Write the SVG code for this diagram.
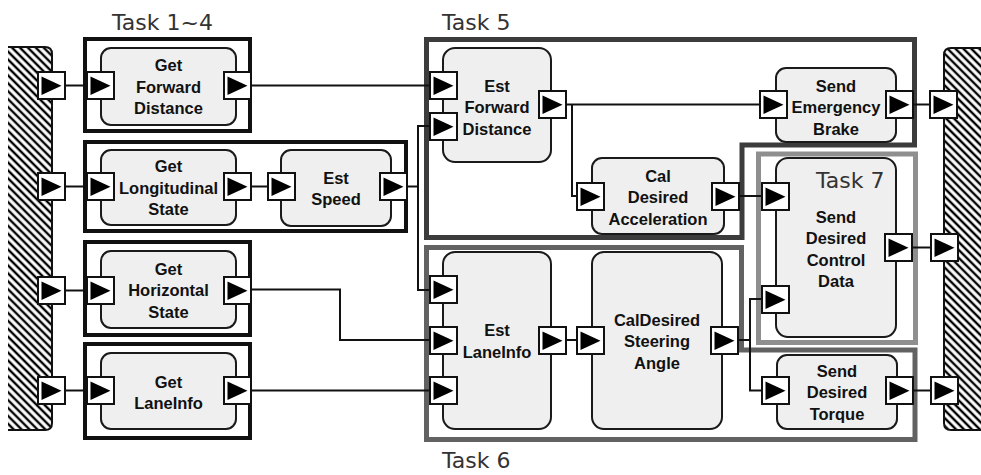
<svg xmlns="http://www.w3.org/2000/svg" xmlns:xlink="http://www.w3.org/1999/xlink" width="981" height="475" viewBox="0 0 981 475">
  <defs>
    <pattern id="hatch" patternUnits="userSpaceOnUse" width="5.6" height="5.6" patternTransform="rotate(-45)">
      <rect width="5.6" height="5.6" fill="#ffffff"/>
      <line x1="2.8" y1="0" x2="2.8" y2="5.6" stroke="#000" stroke-width="2.4"/>
    </pattern>
    <g id="port">
      <rect x="0" y="0" width="27" height="27" fill="#ffffff" stroke="#111" stroke-width="2"/>
      <polygon points="3.5,4.5 3.5,23 23.5,13.7" fill="#000"/>
    </g>
  </defs>
  <style>
    .task { fill: none; stroke-linejoin: miter; }
    .t14 { stroke: #111; stroke-width: 4; }
    .t5 { stroke: #3c3c3c; stroke-width: 5; }
    .t6 { stroke: #626262; stroke-width: 5; }
    .t7 { stroke: #8f8f8f; stroke-width: 5; }
    .node { fill: #efefef; stroke: #1a1a1a; stroke-width: 2; }
    .lbl { font-family: "Liberation Sans", Arial, sans-serif; font-weight: bold; font-size: 16.5px; fill: #111; text-anchor: middle; }
    .tname { font-family: "DejaVu Sans", Verdana, sans-serif; font-size: 22px; fill: #333; }
    .wire { fill: none; stroke: #111; stroke-width: 2; }
    .bar { fill: url(#hatch); stroke: #111; stroke-width: 2; }
  </style>
  <rect width="981" height="475" fill="#ffffff"/>

  <!-- external environment bars -->
  <g id="env-left">
    <path class="bar" d="M8,47 H45 Q52,47 52,54 V423 Q52,430 45,430 H8"/>
  </g>
  <g id="env-right">
    <path class="bar" d="M983,48 H951 Q944,48 944,55 V423 Q944,430 951,430 H983"/>
  </g>

  <!-- task frames -->
  <g id="tasks">
    <rect class="task t14" x="85" y="39" width="165" height="92"/>
    <rect class="task t14" x="85" y="142" width="321" height="89"/>
    <rect class="task t14" x="85" y="242" width="165" height="93"/>
    <rect class="task t14" x="85" y="344" width="165" height="94"/>
    <polygon class="task t5" points="426.5,39.5 914.5,39.5 914.5,145 742,145 742,237.5 426.5,237.5"/>
    <polygon class="task t6" points="426.5,247.5 741.5,247.5 741.5,350 915,350 915,439.5 426.5,439.5"/>
    <rect class="task t7" x="758.5" y="154" width="157" height="188.5"/>
    <text class="tname" x="112" y="30">Task 1~4</text>
    <text class="tname" x="442" y="30">Task 5</text>
    <text class="tname" x="442" y="468">Task 6</text>
  </g>

  <!-- connectors -->
  <g id="connectors">
    <path class="wire" d="M64,85.5 H88"/>
    <path class="wire" d="M64,186.5 H88"/>
    <path class="wire" d="M64,290.5 H88"/>
    <path class="wire" d="M64,390.5 H88"/>
    <path class="wire" d="M250,85.5 H431"/>
    <path class="wire" d="M250,186.5 H269"/>
    <path class="wire" d="M406,186.5 H418"/>
    <path class="wire" d="M431,126 H418 V290 H431"/>
    <path class="wire" d="M250,289.5 H340 V340 H431"/>
    <path class="wire" d="M250,390.5 H431"/>
    <path class="wire" d="M565,104.5 H761"/>
    <path class="wire" d="M572,104.5 V196 H578"/>
    <path class="wire" d="M738,196 H763"/>
    <path class="wire" d="M565,340 H578"/>
    <path class="wire" d="M737,340 H750"/>
    <path class="wire" d="M763,299 H750 V390.5 H763"/>
    <path class="wire" d="M912,104.5 H931"/>
    <path class="wire" d="M911,247.5 H932"/>
    <path class="wire" d="M912,390.5 H932"/>
  </g>

  <!-- nodes -->
  <g id="get-forward-distance">
    <rect class="node" x="101" y="48" width="135" height="77" rx="10"/>
    <text class="lbl" x="168.5" y="71">Get</text>
    <text class="lbl" x="168.5" y="92.5">Forward</text>
    <text class="lbl" x="168.5" y="114">Distance</text>
    <use href="#port" x="87" y="72"/>
    <use href="#port" x="224" y="72"/>
  </g>
  <g id="get-longitudinal-state">
    <rect class="node" x="101" y="150" width="135" height="75" rx="10"/>
    <text class="lbl" x="168.5" y="172">Get</text>
    <text class="lbl" x="168.5" y="193.5">Longitudinal</text>
    <text class="lbl" x="168.5" y="215">State</text>
    <use href="#port" x="87" y="173"/>
    <use href="#port" x="224" y="173"/>
  </g>
  <g id="est-speed">
    <rect class="node" x="281" y="150" width="110" height="76" rx="10"/>
    <text class="lbl" x="336" y="183.5">Est</text>
    <text class="lbl" x="336" y="205">Speed</text>
    <use href="#port" x="268" y="173"/>
    <use href="#port" x="380" y="173"/>
  </g>
  <g id="get-horizontal-state">
    <rect class="node" x="101" y="251" width="135" height="77" rx="10"/>
    <text class="lbl" x="168.5" y="274.5">Get</text>
    <text class="lbl" x="168.5" y="296">Horizontal</text>
    <text class="lbl" x="168.5" y="317.5">State</text>
    <use href="#port" x="87" y="277"/>
    <use href="#port" x="224" y="277"/>
  </g>
  <g id="get-laneinfo">
    <rect class="node" x="101" y="353" width="135" height="76" rx="10"/>
    <text class="lbl" x="168.5" y="387.5">Get</text>
    <text class="lbl" x="168.5" y="409">LaneInfo</text>
    <use href="#port" x="87" y="377"/>
    <use href="#port" x="224" y="377"/>
  </g>
  <g id="est-forward-distance">
    <rect class="node" x="443" y="48" width="108" height="114" rx="12"/>
    <text class="lbl" x="497" y="91.5">Est</text>
    <text class="lbl" x="497" y="113">Forward</text>
    <text class="lbl" x="497" y="134.5">Distance</text>
    <use href="#port" x="430" y="72"/>
    <use href="#port" x="430" y="113"/>
    <use href="#port" x="539" y="91"/>
  </g>
  <g id="send-emergency-brake">
    <rect class="node" x="776" y="68" width="120" height="74" rx="10"/>
    <text class="lbl" x="836" y="91.5">Send</text>
    <text class="lbl" x="836" y="113">Emergency</text>
    <text class="lbl" x="836" y="134.5">Brake</text>
    <use href="#port" x="760" y="91"/>
    <use href="#port" x="886" y="91"/>
  </g>
  <g id="cal-desired-acceleration">
    <rect class="node" x="592" y="158" width="132" height="76" rx="10"/>
    <text class="lbl" x="658" y="181.5">Cal</text>
    <text class="lbl" x="658" y="203">Desired</text>
    <text class="lbl" x="658" y="224.5">Acceleration</text>
    <use href="#port" x="577" y="183"/>
    <use href="#port" x="712" y="183"/>
  </g>
  <g id="send-desired-control-data">
    <rect class="node" x="776" y="158" width="120" height="179" rx="12"/>
    <text class="tname" x="816" y="188">Task 7</text>
    <text class="lbl" x="836" y="222.5">Send</text>
    <text class="lbl" x="836" y="244">Desired</text>
    <text class="lbl" x="836" y="265.5">Control</text>
    <text class="lbl" x="836" y="287">Data</text>
    <use href="#port" x="762" y="183"/>
    <use href="#port" x="762" y="286"/>
    <use href="#port" x="885" y="234"/>
  </g>
  <g id="est-laneinfo">
    <rect class="node" x="443" y="252" width="108" height="177" rx="12"/>
    <text class="lbl" x="497" y="336">Est</text>
    <text class="lbl" x="497" y="357.5">LaneInfo</text>
    <use href="#port" x="430" y="276"/>
    <use href="#port" x="430" y="327"/>
    <use href="#port" x="430" y="377"/>
    <use href="#port" x="539" y="327"/>
  </g>
  <g id="cal-desired-steering-angle">
    <rect class="node" x="592" y="252" width="130" height="177" rx="12"/>
    <text class="lbl" x="657" y="325.5">CalDesired</text>
    <text class="lbl" x="657" y="347">Steering</text>
    <text class="lbl" x="657" y="368.5">Angle</text>
    <use href="#port" x="577" y="327"/>
    <use href="#port" x="711" y="327"/>
  </g>
  <g id="send-desired-torque">
    <rect class="node" x="777" y="355" width="120" height="74" rx="10"/>
    <text class="lbl" x="837" y="376.5">Send</text>
    <text class="lbl" x="837" y="398">Desired</text>
    <text class="lbl" x="837" y="419.5">Torque</text>
    <use href="#port" x="762" y="377"/>
    <use href="#port" x="886" y="377"/>
  </g>

  <!-- boundary ports on the environment bars -->
  <g id="env-ports">
    <use href="#port" x="38" y="72"/>
    <use href="#port" x="38" y="173"/>
    <use href="#port" x="38" y="277"/>
    <use href="#port" x="38" y="377"/>
    <use href="#port" x="930" y="91"/>
    <use href="#port" x="931" y="234"/>
    <use href="#port" x="931" y="377"/>
  </g>
</svg>
